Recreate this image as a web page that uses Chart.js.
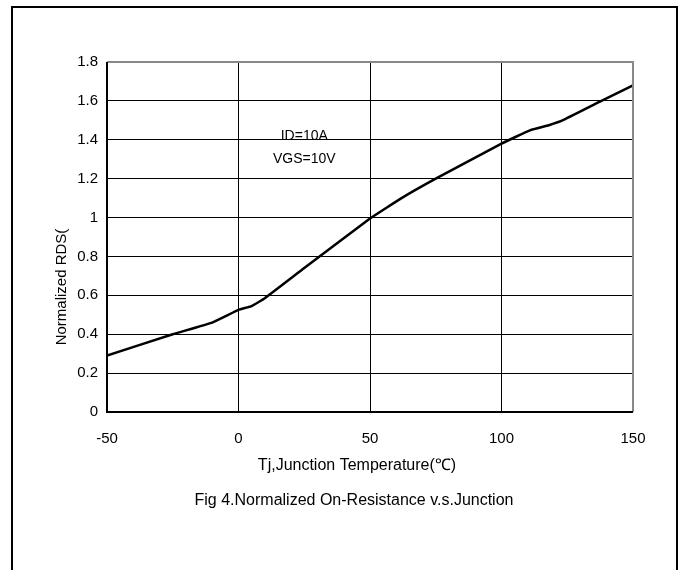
<!DOCTYPE html>
<html>
<head>
<meta charset="utf-8">
<script src="https://cdn.jsdelivr.net/npm/chart.js@4/dist/chart.umd.min.js"></script>
<style>
  html, body { margin: 0; padding: 0; background: #fff; }
  #wrap { position: relative; width: 685px; height: 570px; }
</style>
</head>
<body>
<div id="wrap"><canvas id="myChart" width="685" height="570"></canvas></div>
<script>
// junction temperature (degC) and normalized RDS(on)
const temps = [-50, -25, -10, 0, 5, 10, 25, 50, 62, 75, 100, 111, 118, 124, 138, 150];
const rds = [0.29, 0.40, 0.46, 0.525, 0.545, 0.585, 0.74, 0.995, 1.10, 1.20, 1.38, 1.45, 1.475, 1.505, 1.60, 1.68];
const xTicks = [-50, 0, 50, 100, 150];
const yTicks = [0, 0.2, 0.4, 0.6, 0.8, 1, 1.2, 1.4, 1.6, 1.8];
const notes = ['ID=10A', 'VGS=10V'];
const noteAt = { x: 25, y: [1.42, 1.30] };
const xTitle = 'Tj,Junction Temperature(\u2103)';
const yTitle = 'Normalized RDS(';
const caption = 'Fig 4.Normalized On-Resistance v.s.Junction';

const FONT = 'Arial, "Liberation Sans", sans-serif';

// page frame, plot frame, titles, notes, caption
const extras = {
  id: 'extras',
  beforeDraw(chart) {
    const c = chart.ctx;
    c.save();
    c.strokeStyle = '#000';
    c.lineWidth = 2;
    c.beginPath();
    c.moveTo(12, 580);
    c.lineTo(12, 7);
    c.lineTo(677, 7);
    c.lineTo(677, 580);
    c.stroke();
    c.restore();
  },
  afterDraw(chart) {
    const c = chart.ctx;
    const a = chart.chartArea;
    const xs = chart.scales.x, ys = chart.scales.y;
    c.save();
    c.lineWidth = 2;
    c.strokeStyle = '#888';
    c.beginPath();
    c.moveTo(a.left, a.top);
    c.lineTo(a.right, a.top);
    c.lineTo(a.right, a.bottom);
    c.stroke();
    c.strokeStyle = '#000';
    c.beginPath();
    c.moveTo(a.left, a.top);
    c.lineTo(a.left, a.bottom);
    c.lineTo(a.right, a.bottom);
    c.stroke();

    c.fillStyle = '#000';
    c.textAlign = 'center';
    c.textBaseline = 'middle';
    c.font = '14px ' + FONT;
    notes.forEach((t, i) => {
      c.fillText(t, xs.getPixelForValue(noteAt.x), ys.getPixelForValue(noteAt.y[i]));
    });
    c.font = '16px ' + FONT;
    c.fillText(xTitle, 357, 466);
    c.font = '16px ' + FONT;
    c.fillText(caption, 354, 501);

    c.translate(62, 287);
    c.rotate(-Math.PI / 2);
    c.font = '15px ' + FONT;
    c.fillText(yTitle, 0, 0);
    c.restore();
  }
};

new Chart(document.getElementById('myChart'), {
  type: 'line',
  data: {
    datasets: [{
      data: temps.map((t, i) => ({ x: t, y: rds[i] })),
      borderColor: '#000',
      borderWidth: 2.5,
      pointRadius: 0,
      tension: 0.1,
      fill: false
    }]
  },
  options: {
    responsive: false,
    animation: false,
    events: [],
    layout: { padding: { top: 62, right: 52, left: 0, bottom: 0 } },
    plugins: { legend: { display: false }, tooltip: { enabled: false } },
    scales: {
      x: {
        type: 'linear',
        min: -50,
        max: 150,
        afterBuildTicks: s => { s.ticks = xTicks.map(v => ({ value: v })); },
        afterFit: s => { s.height = 570 - 412; },
        grid: { color: '#000', lineWidth: 1, drawTicks: false },
        border: { display: false },
        ticks: { color: '#000', font: { family: FONT, size: 15 }, padding: 18, maxRotation: 0 }
      },
      y: {
        min: 0,
        max: 1.8,
        afterBuildTicks: s => { s.ticks = yTicks.map(v => ({ value: v })); },
        afterFit: s => { s.width = 107; },
        grid: { color: '#000', lineWidth: 1, drawTicks: false },
        border: { display: false },
        ticks: { color: '#000', font: { family: FONT, size: 15 }, padding: 9, callback: v => String(v) }
      }
    }
  },
  plugins: [extras]
});
</script>
</body>
</html>
